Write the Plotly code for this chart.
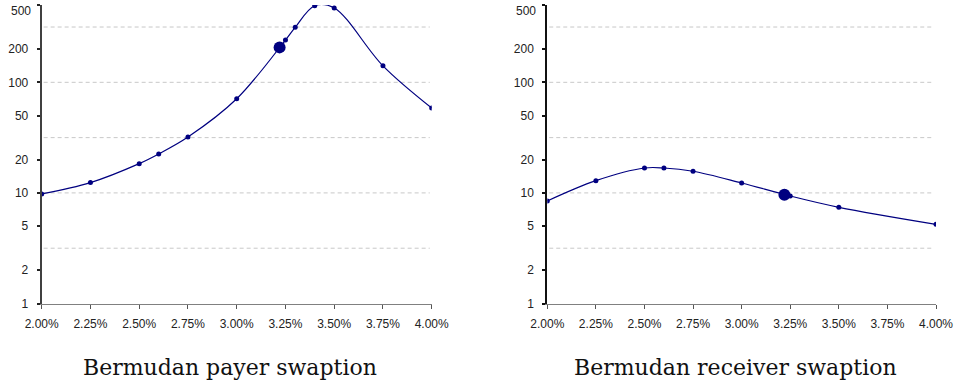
import math
import plotly.graph_objects as go

# ---- data (rates in %, option values) ----
payer_rates = [2.00, 2.25, 2.50, 2.60, 2.75, 3.00, 3.25, 3.30, 3.40, 3.50, 3.75, 4.00]
payer_values = [9.8, 12.4, 18.4, 22.5, 32.0, 71.0, 241.0, 314.0, 493.0, 470.0, 141.0, 58.6]

receiver_rates = [2.00, 2.25, 2.50, 2.60, 2.75, 3.00, 3.25, 3.50, 4.00]
receiver_values = [8.45, 12.9, 16.8, 16.8, 15.7, 12.3, 9.37, 7.41, 5.2]

atm_rate = [3.22]
atm_payer = [207.0]
atm_receiver = [9.63]

y_tick_values = [1, 2, 5, 10, 20, 50, 100, 200, 500]
grid_values = [10 ** 0.5, 10, 10 ** 1.5, 100, 10 ** 2.5]
titles = ["Bermudan payer swaption", "Bermudan receiver swaption"]

NAVY = "#000080"
W, H = 959, 389

fig = go.Figure()


def pct(v):
    return [r / 100 for r in v]


for i, (rates, vals, atm_v) in enumerate(
    [(payer_rates, payer_values, atm_payer), (receiver_rates, receiver_values, atm_receiver)]
):
    xa = "x" if i == 0 else "x2"
    ya = "y" if i == 0 else "y2"
    fig.add_trace(go.Scatter(
        x=pct(rates), y=vals, xaxis=xa, yaxis=ya, mode="lines+markers",
        line=dict(color=NAVY, width=1.2, shape="spline", smoothing=1.0),
        marker=dict(color=NAVY, size=5), showlegend=False, hoverinfo="skip"))
    fig.add_trace(go.Scatter(
        x=pct(atm_rate), y=atm_v, xaxis=xa, yaxis=ya, mode="markers",
        marker=dict(color=NAVY, size=12), showlegend=False, hoverinfo="skip"))

# pixel-based domains
def xdom(a, b):
    return [a / W, b / W]

ydom = [(H - 303.5) / H, (H - 5) / H]

tick_font = dict(family="Liberation Sans, Arial, sans-serif", size=12, color="#222")

top_tick = y_tick_values[-1]
ticktext = [str(v) if v != top_tick else "" for v in y_tick_values]

common_x = dict(range=[0.02, 0.04], dtick=0.0025, tick0=0.02, tickformat=".2%",
                showgrid=False, zeroline=False, showline=True, linecolor="#808080", linewidth=1,
                ticks="outside", ticklen=4, tickcolor="#555", tickwidth=1, tickfont=tick_font,
                automargin=False, ticklabelstandoff=5, ticklabeloverflow="allow")
common_y = dict(type="log", range=[0, 2.6992], tickmode="array", tickvals=y_tick_values,
                ticktext=ticktext, showgrid=False, zeroline=False,
                showline=True, linewidth=2, ticks="outside", ticklen=3, tickwidth=2,
                tickfont=tick_font, automargin=False, ticklabelstandoff=6,
                ticklabeloverflow="allow")

fig.update_layout(
    width=W, height=H, margin=dict(l=0, r=0, t=0, b=0, autoexpand=False),
    paper_bgcolor="white", plot_bgcolor="white",
    xaxis=dict(domain=xdom(41.7, 431.7), anchor="y", **common_x),
    yaxis=dict(domain=ydom, anchor="x", linecolor="#404040", tickcolor="#222", **common_y),
    xaxis2=dict(domain=xdom(547.3, 936.0), anchor="y2", **common_x),
    yaxis2=dict(domain=ydom, anchor="x2", linecolor="#111", tickcolor="#111", **common_y),
)

for xr, yr in [("x domain", "y"), ("x2 domain", "y2")]:
    for g in grid_values:
        fig.add_shape(type="line", xref=xr, yref=yr, x0=0.005, x1=0.995, y0=g, y1=g,
                      line=dict(color="#c8c8c8", width=1, dash="4px,3px"), layer="below")
    # top tick label, nudged down to stay inside the page (as in the original)
    fig.add_annotation(text=str(top_tick), xref=xr, yref=yr.replace("y", "y") , x=0,
                       y=math.log10(top_tick), xanchor="right", yanchor="middle",
                       xshift=-9, yshift=-6, showarrow=False, font=tick_font)

for cx, t in zip([230 / W, 735 / W], titles):
    fig.add_annotation(text=t, x=cx, y=(H - 367) / H, xref="paper", yref="paper",
                       xanchor="center", yanchor="middle", showarrow=False,
                       font=dict(family="DejaVu Serif", size=22, color="#111"))

fig.write_html("out.html")
